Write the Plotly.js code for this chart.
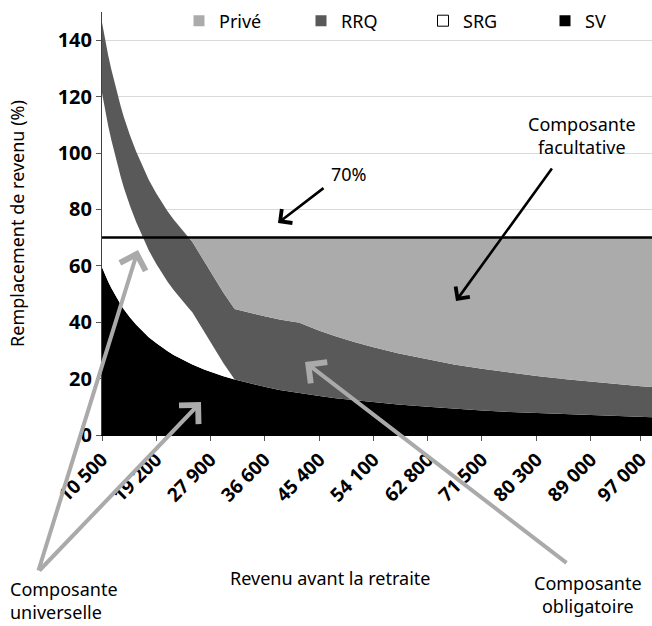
<!DOCTYPE html>
<html><head><meta charset="utf-8">
<script src="https://cdn.plot.ly/plotly-3.0.1.min.js"></script>
<style>html,body{margin:0;padding:0;background:#fff}#chart{width:652px;height:626px}</style>
</head><body><div id="chart"></div>
<script>
// Revenu avant la retraite ($) – sample points
const revenu = [10500, 11000, 11500, 12000, 12500, 13000, 13500, 14000, 14500, 15000, 16000, 17000, 17500, 18000, 19200, 20000, 21000, 22000, 23000, 24000, 24500, 25000,
                27000, 28500, 30000, 31800, 34000, 36600, 39000, 42200, 45400, 48000, 51000, 54100, 58000, 62800, 67000, 71500, 76000, 80300, 85000, 89000, 93000, 97000, 98800];
// Taux de remplacement (%) par composante
const sv    = [59.5, 56.8, 54.3, 52.1, 50.0, 48.1, 46.3, 44.6, 43.1, 41.7, 39.1, 36.8, 35.7, 34.7, 32.6, 31.3, 29.8, 28.4, 27.2, 26.0, 25.5, 25.0,
               23.1, 21.9, 20.8, 19.7, 18.4, 17.1, 16.0, 14.8, 13.8, 13.0, 12.3, 11.6, 10.8, 10.0, 9.3, 8.7, 8.2, 7.8, 7.4, 7.0, 6.7, 6.4, 6.3];
const srg   = [61.8, 58.4, 55.3, 52.5, 49.9, 47.5, 45.3, 43.2, 41.3, 39.5, 36.3, 33.4, 32.1, 30.8, 28.1, 26.5, 24.6, 23.0, 21.4, 20.0, 19.3, 18.5,
               13.0, 8.8, 4.6, 0, 0, 0, 0, 0, 0, 0, 0, 0, 0, 0, 0, 0, 0, 0, 0, 0, 0, 0, 0];
const rrq   = [25.0, 25.0, 25.0, 25.0, 25.0, 25.0, 25.0, 25.0, 25.0, 25.0, 25.0, 25.0, 25.0, 25.0, 25.0, 25.0, 25.0, 25.0, 25.0, 25.0, 25.0, 25.0,
               25.0, 25.0, 25.0, 25.0, 25.0, 25.0, 25.0, 25.0, 23.2, 22.0, 20.7, 19.5, 18.2, 16.8, 15.7, 14.8, 13.9, 13.1, 12.4, 11.9, 11.3, 10.9, 10.7];
const prive = [0, 0, 0, 0, 0, 0, 0, 0, 0, 0, 0, 0, 0, 0, 0, 0, 0, 0, 0, 0, 0.2, 1.5,
               8.9, 14.3, 19.6, 25.3, 26.6, 27.9, 29.0, 30.2, 33.0, 35.0, 37.0, 38.9, 41.0, 43.2, 45.0, 46.5, 47.9, 49.1, 50.2, 51.1, 52.0, 52.7, 53.0];
const cible = 70;
const tickRevenu = [10500, 19200, 27900, 36600, 45400, 54100, 62800, 71500, 80300, 89000, 97000];
const tickLabels = ['10 500', '19 200', '27 900', '36 600', '45 400', '54 100', '62 800', '71 500', '80 300', '89 000', '97 000'];
const yTicks = [0, 20, 40, 60, 80, 100, 120, 140];

const W = 652, H = 626, L = 102, R = 0, T = 12, B = 191;
const pw = W - L - R, ph = H - T - B;
const px = x => (x - L) / pw;
const py = y => (H - B - y) / ph;

const FONT = 'Noto Sans, Open Sans, sans-serif';
const series = [
  {name: 'SV', y: sv, color: '#000000'},
  {name: 'SRG', y: srg, color: '#ffffff'},
  {name: 'RRQ', y: rrq, color: '#595959'},
  {name: 'Privé', y: prive, color: '#ababab'}
];

const traces = series.map(s => ({
  type: 'scatter', x: revenu, y: s.y, name: s.name, stackgroup: 'un',
  mode: 'lines', line: {width: 0, color: s.color}, fillcolor: s.color,
  showlegend: false, hoverinfo: 'skip'
}));
// legend entries (square keys), in the reference's order
['Privé', 'RRQ', 'SRG', 'SV'].forEach(n => {
  const s = series.find(d => d.name === n);
  traces.push({
    type: 'scatter', x: [null], y: [null], name: n, mode: 'markers',
    marker: {symbol: 'square', size: 11, color: s.color,
             line: {width: n === 'SRG' ? 1 : 0, color: '#000'}},
    showlegend: true, hoverinfo: 'skip'
  });
});

function arrow(hx, hy, tx, ty, color, width) {
  return {xref: 'paper', yref: 'paper', x: px(hx), y: py(hy), ax: tx - hx, ay: ty - hy,
          axref: 'pixel', ayref: 'pixel', text: '', showarrow: true,
          arrowhead: 4, arrowsize: 1.3, arrowwidth: width, arrowcolor: color,
          standoff: 0, startstandoff: 0};
}
function label(text, x, y, xanchor, align) {
  return {xref: 'paper', yref: 'paper', x: px(x), y: py(y), text: text, showarrow: false,
          xanchor: xanchor, yanchor: 'middle', align: align || 'center',
          font: {family: FONT, size: 18, color: '#000'}};
}

const layout = {
  width: W, height: H,
  margin: {l: L, r: R, t: T, b: B, pad: 0, autoexpand: false},
  paper_bgcolor: '#ffffff', plot_bgcolor: '#ffffff',
  font: {family: FONT, color: '#000'},
  showlegend: true,
  legend: {orientation: 'h', x: px(179), xanchor: 'left', y: py(21), yanchor: 'middle',
           font: {family: FONT, size: 18, color: '#000'}, bgcolor: 'rgba(0,0,0,0)',
           entrywidth: 77, entrywidthmode: 'pixels', traceorder: 'normal'},
  xaxis: {type: 'linear', range: [10500, 98800], tickmode: 'array', tickvals: tickRevenu,
          ticktext: tickLabels, tickangle: -45, ticks: 'outside', ticklen: 5, tickcolor: '#555',
          tickfont: {family: FONT, size: 19, color: '#000', weight: 'bold'},
          showgrid: false, zeroline: false, showline: true, linecolor: '#000', linewidth: 1,
          fixedrange: true},
  yaxis: {range: [0, 150], tickmode: 'array', tickvals: yTicks, ticks: 'outside', ticklen: 5,
          ticksuffix: '\u2002',
          tickcolor: '#555', tickfont: {family: FONT, size: 20, color: '#000', weight: 'bold'},
          showgrid: true, gridcolor: '#d9d9d9', gridwidth: 1, zeroline: false,
          showline: true, linecolor: '#404040', linewidth: 1,
          title: {text: 'Remplacement de revenu (%)', standoff: 28,
                  font: {family: FONT, size: 18, color: '#000'}},
          fixedrange: true},
  shapes: [{type: 'line', xref: 'paper', x0: 0, x1: 1, yref: 'y', y0: cible, y1: cible,
            line: {color: '#000', width: 2.5}}],
  annotations: [
    label('Revenu avant la retraite', 330, 578, 'center'),
    label('70%', 329, 174, 'left'),
    label('Composante<br>facultative', 582, 135, 'center'),
    label('Composante<br>universelle', 8, 600, 'left', 'left'),
    label('Composante<br>obligatoire', 588, 594, 'center'),
    arrow(278, 223, 325, 187, '#000', 2.6),
    arrow(456, 301, 553, 167, '#000', 2.6),
    arrow(138, 250, 38, 572, '#aaaaaa', 4),
    arrow(201, 402, 38, 572, '#aaaaaa', 4),
    arrow(305, 362, 568, 564, '#aaaaaa', 4)
  ]
};

Plotly.newPlot('chart', traces, layout, {staticPlot: true, displayModeBar: false});
</script></body></html>
